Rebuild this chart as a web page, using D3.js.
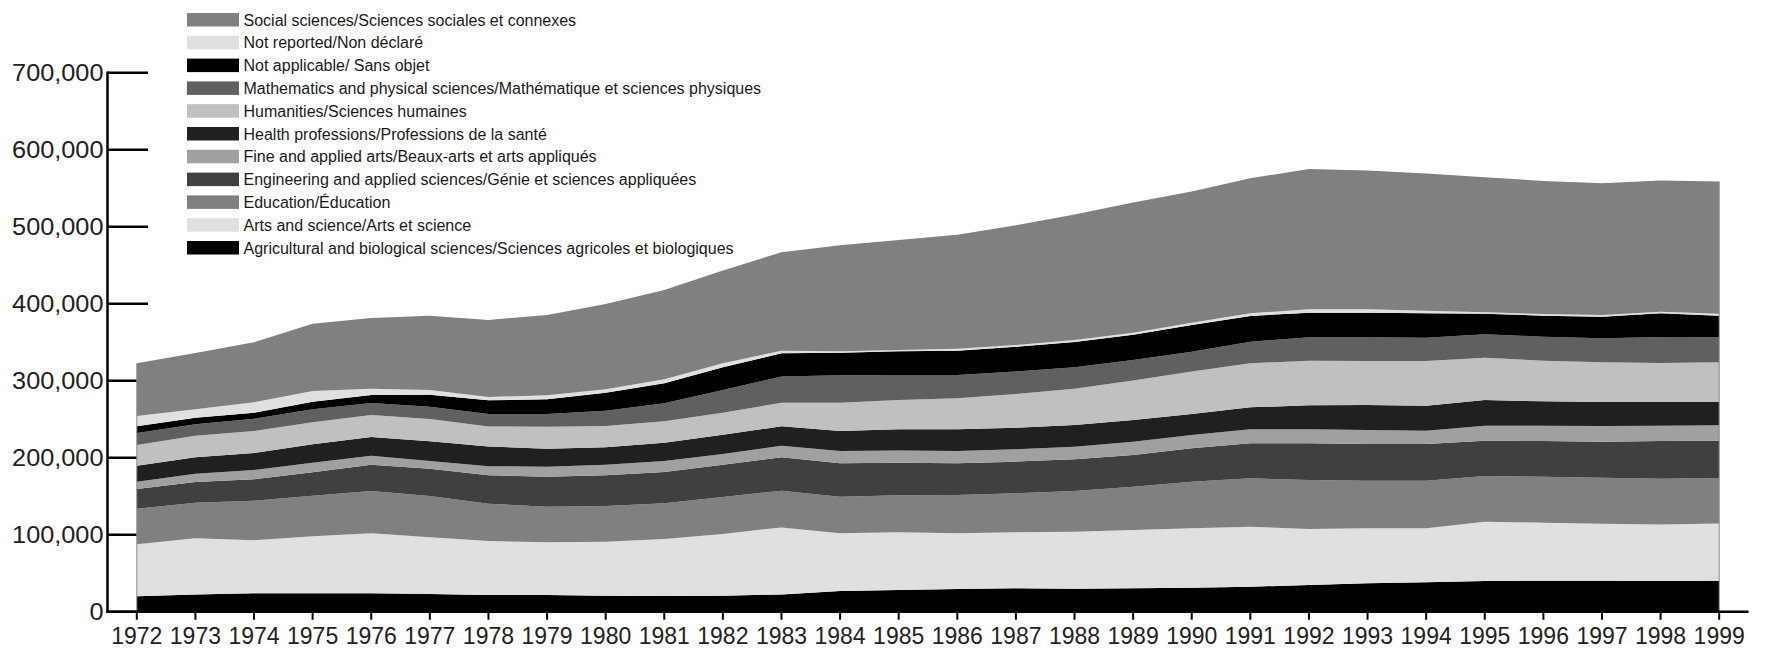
<!DOCTYPE html>
<html>
<head>
<meta charset="utf-8">
<script src="https://cdn.jsdelivr.net/npm/d3@7/dist/d3.min.js"></script>
<style>
  html, body { margin: 0; padding: 0; background: #fff; }
  svg { display: block; font-family: "Liberation Sans", Arial, Helvetica, sans-serif; }
</style>
</head>
<body>
<svg id="chart" width="1766" height="649"></svg>
<script>
// ---- Data ----
const years = [1972,1973,1974,1975,1976,1977,1978,1979,1980,1981,1982,1983,1984,1985,
               1986,1987,1988,1989,1990,1991,1992,1993,1994,1995,1996,1997,1998,1999];

const agricultural = [20000,22300,23800,23800,23800,22900,21800,21600,20800,20400,20800,22500,26800,28100,29400,30300,29900,30300,31200,32500,34600,36800,38100,39800,40300,40300,39800,40300];
const artsScience  = [67700,73200,68900,74100,78000,73700,70000,68500,70100,74000,80100,87000,75000,75000,72400,72800,74000,75800,77100,77900,72800,71500,70200,77100,75300,74000,73600,74400];
const education    = [46100,45900,51500,52800,54900,53700,48500,46300,46400,46300,48100,47700,47600,48000,49800,50600,52800,56300,60600,62800,63600,61900,61900,59300,59800,59800,59400,58900];
const engineering  = [25700,27000,27700,30300,34300,35500,37000,39000,39800,40700,42000,43300,43300,42500,41100,41200,41200,41100,43300,45500,47700,47600,47600,45900,46300,46700,48900,48500];
const fineArts     = [9400,10600,12100,12600,11600,9900,11700,13000,13800,14300,13800,15100,16000,15600,16000,16000,16400,17300,17300,18200,18200,18200,17300,19500,19900,20400,19900,19900];
const health       = [20600,21700,22100,23800,24300,25600,25700,23300,22600,23800,25100,25100,26000,27700,28200,28100,28200,28200,27300,28500,31100,32500,32500,33400,31600,31200,30800,30400];
const humanities   = [27000,27700,28600,28500,28600,29000,25800,28600,27700,27700,28600,30800,36800,38100,40200,43700,47200,51100,55000,57200,58000,57100,58000,54900,52800,51500,50600,51500];
const mathPhys     = [15700,15100,16000,16900,15600,16000,16200,16500,19900,23400,29400,33800,35500,32400,30300,29100,27700,26800,25900,28100,30400,30800,30300,30400,31200,31200,33800,32500];
const notApplicable= [8800,8500,7800,10000,10400,15600,17800,19000,23400,26000,29500,30300,29400,30800,31600,32400,32900,32900,34700,33400,32000,32000,31600,26800,27300,28100,30700,28100];
const notReported  = [13200,10800,13400,13800,8200,6100,4400,5200,4300,5200,5200,3400,1800,1700,2600,2200,2600,2600,3000,3400,4300,4300,3500,1700,2100,2200,2200,2600];
const socialSci    = [68400,73200,78000,87500,91800,96500,100000,104400,110900,116000,120400,127800,137700,142900,148100,155400,162800,168900,170200,175400,182300,180200,178000,175400,172800,171000,170200,171500];

const yTicks = [0,100000,200000,300000,400000,500000,600000,700000];

// series in stacking order (bottom -> top)
const seriesNames = [
  "Agricultural and biological sciences/Sciences agricoles et biologiques",
  "Arts and science/Arts et science",
  "Education/Éducation",
  "Engineering and applied sciences/Génie et sciences appliquées",
  "Fine and applied arts/Beaux-arts et arts appliqués",
  "Health professions/Professions de la santé",
  "Humanities/Sciences humaines",
  "Mathematics and physical sciences/Mathématique et sciences physiques",
  "Not applicable/ Sans objet",
  "Not reported/Non déclaré",
  "Social sciences/Sciences sociales et connexes"
];
const seriesValues = [agricultural, artsScience, education, engineering, fineArts, health,
                      humanities, mathPhys, notApplicable, notReported, socialSci];
const seriesColors = ["#000000","#e0e0e0","#808080","#404040","#a0a0a0","#202020",
                      "#c0c0c0","#606060","#000000","#e0e0e0","#808080"];

// ---- Build table for d3.stack ----
const table = years.map((yr, i) => {
  const row = { year: yr };
  seriesNames.forEach((n, k) => row[n] = seriesValues[k][i]);
  return row;
});

const svg = d3.select("#chart");

const x = d3.scalePoint().domain(years).range([107.5, 1748.5]).padding(0.5);
const y = d3.scaleLinear().domain([0, 700000]).range([611.7, 72.7]);

const stack = d3.stack().keys(seriesNames);
const layers = stack(table);

// y ticks (drawn under the areas)
svg.append("g").selectAll("line").data(yTicks).join("line")
  .attr("x1", 107.5).attr("x2", 148)
  .attr("y1", d => y(d)).attr("y2", d => y(d))
  .attr("stroke", "#000").attr("stroke-width", 2.5);

// areas
const area = d3.area()
  .x(d => x(d.data.year))
  .y0(d => y(d[0]))
  .y1(d => y(d[1]));

svg.append("g").selectAll("path").data(layers).join("path")
  .attr("d", area)
  .attr("fill", (d, i) => seriesColors[i]);

// thin grey edges at left/right of the stack
const total = years.map((yr, i) => seriesValues.reduce((s, arr) => s + arr[i], 0));
svg.append("line")
  .attr("x1", x(years[0])).attr("x2", x(years[0]))
  .attr("y1", y(0)).attr("y2", y(total[0]))
  .attr("stroke", "#8a8a8a").attr("stroke-width", 1);
svg.append("line")
  .attr("x1", x(years[years.length-1])).attr("x2", x(years[years.length-1]))
  .attr("y1", y(0)).attr("y2", y(total[total.length-1]))
  .attr("stroke", "#8a8a8a").attr("stroke-width", 1);

// y axis line
svg.append("line")
  .attr("x1", 107.5).attr("x2", 107.5)
  .attr("y1", y(700000) - 1.2).attr("y2", y(0) + 1.2)
  .attr("stroke", "#000").attr("stroke-width", 2.5);

// x axis line
svg.append("line")
  .attr("x1", 106.3).attr("x2", 1748.5)
  .attr("y1", y(0)).attr("y2", y(0))
  .attr("stroke", "#000").attr("stroke-width", 2.5);

// x ticks
svg.append("g").selectAll("line").data(years).join("line")
  .attr("x1", d => x(d)).attr("x2", d => x(d))
  .attr("y1", y(0)).attr("y2", y(0) + 8)
  .attr("stroke", "#000").attr("stroke-width", 2);

// x labels
svg.append("g").selectAll("text").data(years).join("text")
  .attr("x", d => x(d)).attr("y", 643.5)
  .attr("text-anchor", "middle")
  .attr("font-size", 23)
  .attr("fill", "#222")
  .text(d => d);

// y labels (slightly wide glyphs as in the reference)
const fmt = d3.format(",");
svg.append("g").selectAll("text").data(yTicks).join("text")
  .attr("transform", d => `translate(103.5,${y(d)}) scale(1.1,1)`)
  .attr("text-anchor", "end")
  .attr("dy", "0.36em")
  .attr("font-size", 23)
  .attr("fill", "#222")
  .text(d => fmt(d));

// legend (reverse order: top series first)
const legendItems = seriesNames.map((n, i) => ({ name: n, color: seriesColors[i] })).reverse();
const lg = svg.append("g");
const rows = lg.selectAll("g").data(legendItems).join("g")
  .attr("transform", (d, i) => `translate(187,${13 + i * 22.8})`);
rows.append("rect")
  .attr("width", 52).attr("height", 13.5)
  .attr("fill", d => d.color);
rows.append("text")
  .attr("x", 56.5).attr("y", 6.9)
  .attr("dy", "0.35em")
  .attr("font-size", 16)
  .attr("fill", "#1a1a1a")
  .text(d => d.name);
</script>
</body>
</html>
